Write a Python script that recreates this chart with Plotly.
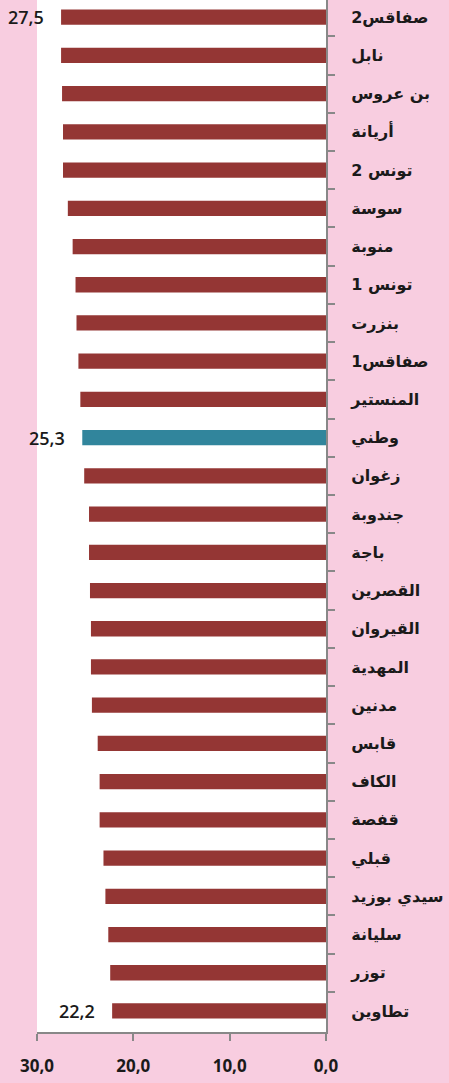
import plotly.graph_objects as go

regions = ['صفاقس2', 'نابل', 'بن عروس', 'أريانة', 'تونس 2', 'سوسة', 'منوبة', 'تونس 1',
           'بنزرت', 'صفاقس1', 'المنستير', 'وطني', 'زغوان', 'جندوبة', 'باجة', 'القصرين',
           'القيروان', 'المهدية', 'مدنين', 'قابس', 'الكاف', 'قفصة', 'قبلي', 'سيدي بوزيد',
           'سليانة', 'توزر', 'تطاوين']
values = [27.5, 27.5, 27.4, 27.3, 27.3, 26.8, 26.3, 26.0, 25.9, 25.7, 25.5, 25.3, 25.1,
          24.6, 24.6, 24.5, 24.4, 24.4, 24.3, 23.7, 23.5, 23.5, 23.1, 22.9, 22.6, 22.4, 22.2]
labelled = ['صفاقس2', 'وطني', 'تطاوين']
x_ticks = [30, 20, 10, 0]

red = '#943634'
teal = '#31859c'
colors = [teal if r == 'وطني' else red for r in regions]

fig = go.Figure(go.Bar(
    x=values, y=regions, orientation='h',
    marker=dict(color=colors, line=dict(width=0)),
    width=0.4,
))

for r, v in zip(regions, values):
    if r in labelled:
        fig.add_annotation(x=v, y=r, text=f'{v:.1f}'.replace('.', ','),
                           xanchor='right', xshift=-15, showarrow=False,
                           font=dict(size=18, color='#1a1a1a', family='Open Sans', weight=600))

fig.update_layout(
    width=449, height=1083,
    margin=dict(l=37, r=123, t=0, b=51),
    paper_bgcolor='#f8cde0',
    plot_bgcolor='white',
    separators=', ',
    showlegend=False,
)
fig.update_xaxes(
    range=[30, 0], tickvals=x_ticks, tickformat='.1f', automargin=False,
    showgrid=False, zeroline=False,
    showline=True, linecolor='#888888', linewidth=2,
    ticks='outside', ticklen=7, tickcolor='#888888', tickwidth=2,
    ticklabelstandoff=11,
    tickfont=dict(size=17, color='#1a1a1a', family='Open Sans', weight='bold'),
)
fig.update_yaxes(
    side='right', range=[len(regions) - 0.45, -0.45],
    categoryorder='array', categoryarray=regions,
    automargin=False,
    showgrid=False, zeroline=False,
    showline=True, linecolor='#888888', linewidth=2,
    ticks='outside', ticklen=7, tickcolor='#888888', tickwidth=2,
    tickson='boundaries', ticklabelstandoff=20,
    tickfont=dict(size=16, color='#1a1a1a', family='DejaVu Sans', weight='bold'),
)

# the page's default body margin would shift the figure by 8px
fig.write_html('out.html', config={'displayModeBar': False},
               post_script="document.body.style.margin='0';")
